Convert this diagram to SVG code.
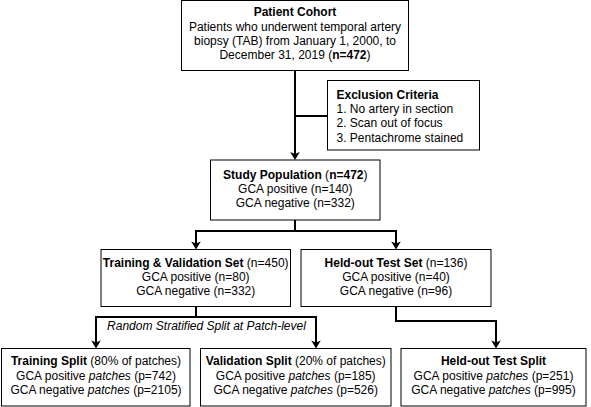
<svg xmlns="http://www.w3.org/2000/svg" width="591" height="407" viewBox="0 0 591 407">
<style>
  .box { fill: #ffffff; stroke: #000000; stroke-width: 1; }
  .edge { fill: none; stroke: #000000; stroke-width: 2; }
  text { font-family: "Liberation Sans", Arial, Helvetica, sans-serif; font-size: 12px; fill: #000000; }
  .c { text-anchor: middle; }
  .b { font-weight: bold; }
  .i { font-style: italic; }
</style>
<defs>
  <marker id="arr" markerUnits="userSpaceOnUse" viewBox="-6 -6 10 12" markerWidth="10" markerHeight="12" refX="0" refY="0" orient="auto">
    <path d="M3,0 L-5,-4.8 L-3,0 L-5,4.8 Z" fill="#000000"/>
  </marker>
</defs>
<rect width="591" height="407" fill="#ffffff"/>

<g id="connectors">
  <path class="edge" d="M295,71 V157" marker-end="url(#arr)"/>
  <path class="edge" d="M295,116 H327.5"/>
  <path class="edge" d="M295,220 V231 H196 V246.5" marker-end="url(#arr)"/>
  <path class="edge" d="M295,231 H396 V246.5" marker-end="url(#arr)"/>
  <path class="edge" d="M196,306.5 V317 H96 V345.5" marker-end="url(#arr)"/>
  <path class="edge" d="M196,317 H316 V345.5" marker-end="url(#arr)"/>
  <path class="edge" d="M396,306.5 V321 H496 V345.5" marker-end="url(#arr)"/>
  <text class="c i" x="206.5" y="329.5">Random Stratified Split at Patch-level</text>
</g>

<g id="patient-cohort">
  <rect class="box" x="181.5" y="0.5" width="227" height="70"/>
  <text class="c b" x="295" y="16">Patient Cohort</text>
  <text class="c" x="295" y="30.5">Patients who underwent temporal artery</text>
  <text class="c" x="295" y="45">biopsy (TAB) from January 1, 2000, to</text>
  <text class="c" x="295" y="59.3">December 31, 2019 (<tspan class="b">n=472</tspan>)</text>
</g>

<g id="exclusion-criteria">
  <rect class="box" x="327.5" y="80.5" width="152" height="69.5"/>
  <text class="b" x="336.5" y="98.5">Exclusion Criteria</text>
  <text x="336.5" y="113">1. No artery in section</text>
  <text x="336.5" y="127.3">2. Scan out of focus</text>
  <text x="336.5" y="141.7">3. Pentachrome stained</text>
</g>

<g id="study-population">
  <rect class="box" x="210.5" y="160" width="169.5" height="60"/>
  <text class="c" x="295.3" y="178.5"><tspan class="b">Study Population</tspan> (<tspan class="b">n=472</tspan>)</text>
  <text class="c" x="295.3" y="192.8">GCA positive (n=140)</text>
  <text class="c" x="295.3" y="207.1">GCA negative (n=332)</text>
</g>

<g id="training-validation-set">
  <rect class="box" x="101" y="249.5" width="189.5" height="57"/>
  <text class="c" x="195.7" y="266.7"><tspan class="b">Training &amp; Validation Set</tspan> (n=450)</text>
  <text class="c" x="195.7" y="281">GCA positive (n=80)</text>
  <text class="c" x="195.7" y="295.3">GCA negative (n=332)</text>
</g>

<g id="held-out-test-set">
  <rect class="box" x="301" y="249.5" width="190" height="57"/>
  <text class="c" x="396" y="266.7"><tspan class="b">Held-out Test Set</tspan> (n=136)</text>
  <text class="c" x="396" y="281">GCA positive (n=40)</text>
  <text class="c" x="396" y="295.3">GCA negative (n=96)</text>
</g>

<g id="training-split">
  <rect class="box" x="1.5" y="348.5" width="188.5" height="57.5"/>
  <text class="c" x="96" y="365.3"><tspan class="b">Training Split</tspan> (80% of patches)</text>
  <text class="c" x="96" y="379.7">GCA positive <tspan class="i">patches</tspan> (p=742)</text>
  <text class="c" x="96" y="394">GCA negative <tspan class="i">patches</tspan> (p=2105)</text>
</g>

<g id="validation-split">
  <rect class="box" x="200.5" y="348.5" width="190.5" height="57.5"/>
  <text class="c" x="295.7" y="365.3"><tspan class="b">Validation Split</tspan> (20% of patches)</text>
  <text class="c" x="295.7" y="379.7">GCA positive <tspan class="i">patches</tspan> (p=185)</text>
  <text class="c" x="295.7" y="394">GCA negative <tspan class="i">patches</tspan> (p=526)</text>
</g>

<g id="held-out-test-split">
  <rect class="box" x="401" y="348.5" width="185" height="57.5"/>
  <text class="c b" x="493.5" y="365.3">Held-out Test Split</text>
  <text class="c" x="493.5" y="379.7">GCA positive <tspan class="i">patches</tspan> (p=251)</text>
  <text class="c" x="493.5" y="394">GCA negative <tspan class="i">patches</tspan> (p=995)</text>
</g>
</svg>
